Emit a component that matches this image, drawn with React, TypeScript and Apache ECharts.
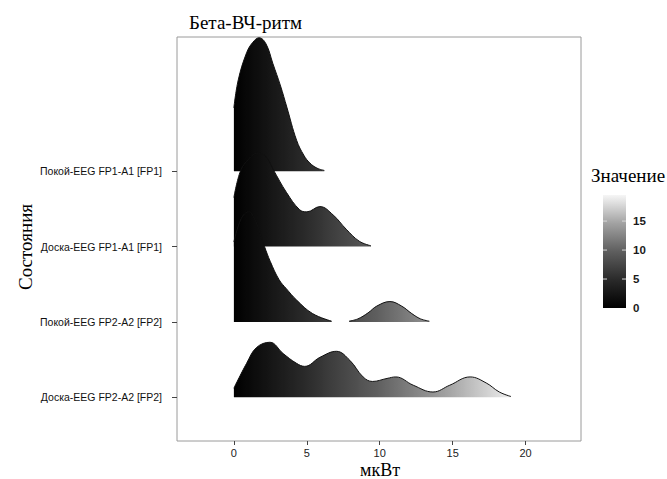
import React, { useEffect, useRef } from "react";
import * as echarts from "echarts";

// Categories from bottom (y = 1) to top (y = 4)
const categories = [
  "Доска-EEG FP2-A2 [FP2]",
  "Покой-EEG FP2-A2 [FP2]",
  "Доска-EEG FP1-A1 [FP1]",
  "Покой-EEG FP1-A1 [FP1]",
];

const xTicks = [0, 5, 10, 15, 20];
const legendTicks = [0, 5, 10, 15];
const fillMax = 19.5;

// Density ridges: x values (мкВт) and ridge heights (in units of row spacing)
const pokoyFP1X = [0, 0.3, 0.87, 1.3, 1.73, 2.2, 2.67, 3.2, 3.63, 4.3, 4.8, 5.2, 5.7, 6.2];
const pokoyFP1H = [0.84, 1.21, 1.57, 1.71, 1.77, 1.69, 1.43, 1.13, 0.85, 0.41, 0.21, 0.11, 0.04, 0.01];

const doskaFP1X = [0, 0.41, 0.87, 1.66, 2.2, 2.7, 3.6, 4.5, 5.0, 5.9, 6.8, 7.7, 8.6, 9.4];
const doskaFP1H = [0.65, 0.98, 1.13, 1.24, 1.19, 1.02, 0.72, 0.49, 0.46, 0.53, 0.42, 0.23, 0.07, 0.01];

const pokoyFP2X = [0, 0.5, 1.0, 1.5, 2.1, 2.5, 3.1, 3.6, 4.3, 5.4, 6.7, 7.3, 7.9, 8.5, 9.2, 9.8, 10.7, 11.5, 12.2, 12.8, 13.4];
const pokoyFP2H = [1.06, 1.37, 1.46, 1.33, 1.0, 0.8, 0.56, 0.44, 0.29, 0.11, 0.01, null, 0.01, 0.04, 0.12, 0.21, 0.27, 0.21, 0.11, 0.04, 0.01];

const doskaFP2X = [0, 0.87, 1.55, 2.47, 3.38, 4.3, 4.86, 5.9, 7.03, 7.95, 8.86, 9.5, 10.5, 11.1, 12.3, 13.65, 14.8, 16.2, 17.3, 18.2, 19.0];
const doskaFP2H = [0.12, 0.45, 0.66, 0.73, 0.58, 0.45, 0.41, 0.53, 0.61, 0.49, 0.27, 0.21, 0.25, 0.27, 0.16, 0.07, 0.16, 0.27, 0.19, 0.07, 0.01];

const ridges = [
  { base: 4, x: pokoyFP1X, h: pokoyFP1H },
  { base: 3, x: doskaFP1X, h: doskaFP1H },
  { base: 2, x: pokoyFP2X, h: pokoyFP2H },
  { base: 1, x: doskaFP2X, h: doskaFP2H },
];

const gradStops = [
  { offset: 0, color: "#000000" },
  { offset: 0.25, color: "#2a2a2a" },
  { offset: 0.5, color: "#5e5e5e" },
  { offset: 0.75, color: "#a2a2a2" },
  { offset: 1, color: "#f6f6f6" },
];

const serif = "'Liberation Serif', 'DejaVu Serif', serif";
const sans = "'Liberation Sans', Arial, sans-serif";

export default function App() {
  const ref = useRef<HTMLDivElement>(null);
  useEffect(() => {
    if (!ref.current) return;
    const chart = echarts.init(ref.current, undefined, { renderer: "svg" });

    const grid = { left: 177, right: 86, top: 37, bottom: 38 };
    const bar = { x: 603, y: 195, w: 23, h: 113 };
    const barY = (v: number) => bar.y + bar.h - (v / fillMax) * bar.h;

    const graphics: any[] = [
      {
        type: "text",
        x: 25,
        y: 247,
        rotation: Math.PI / 2,
        style: {
          text: "Состояния",
          font: `19px ${serif}`,
          fill: "#000",
          align: "center",
          verticalAlign: "middle",
        },
      },
      {
        type: "text",
        x: 380,
        y: 470,
        style: {
          text: "мкВт",
          font: `18px ${serif}`,
          fill: "#000",
          align: "center",
          verticalAlign: "middle",
        },
      },
      {
        type: "text",
        left: 591,
        top: 166,
        style: { text: "Значение", font: `19px ${serif}`, fill: "#000" },
      },
      {
        type: "rect",
        shape: { x: bar.x, y: bar.y, width: bar.w, height: bar.h },
        style: {
          fill: new echarts.graphic.LinearGradient(0, 1, 0, 0, gradStops),
        },
      },
    ];
    legendTicks.forEach((t) => {
      const y = barY(t);
      if (t > 0) {
        graphics.push({
          type: "line",
          shape: { x1: bar.x, y1: y, x2: bar.x + 4, y2: y },
          style: { stroke: "#d8d8d8", lineWidth: 1 },
        });
        graphics.push({
          type: "line",
          shape: { x1: bar.x + bar.w - 4, y1: y, x2: bar.x + bar.w, y2: y },
          style: { stroke: "#d8d8d8", lineWidth: 1 },
        });
      }
      graphics.push({
        type: "text",
        x: bar.x + bar.w + 7,
        y,
        style: {
          text: String(t),
          font: `bold 11.5px ${sans}`,
          fill: "#1a1a1a",
          verticalAlign: "middle",
          align: "left",
        },
      });
    });

    chart.setOption({
      animation: false,
      backgroundColor: "#ffffff",
      title: {
        text: "Бета-ВЧ-ритм",
        left: 184,
        top: 8,
        textStyle: { fontFamily: serif, fontSize: 19, fontWeight: "normal", color: "#000" },
      },
      grid: {
        ...grid,
        containLabel: false,
        outerBoundsMode: "none",
        show: true,
        borderColor: "#9a9a9a",
        borderWidth: 1,
        backgroundColor: "transparent",
      },
      xAxis: {
        type: "value",
        min: -3.9,
        max: 23.8,
        axisLine: { show: false, onZero: false },
        splitLine: { show: false },
        axisTick: { show: true, length: 4, lineStyle: { color: "#444" }, customValues: xTicks },
        axisLabel: {
          customValues: xTicks,
          fontFamily: sans,
          fontSize: 11,
          color: "#222",
          margin: 6,
        },
      },
      yAxis: {
        type: "value",
        min: 0.42,
        max: 5.78,
        axisLine: { show: false, onZero: false },
        splitLine: { show: false },
        axisTick: { show: true, length: 5, lineStyle: { color: "#444" }, customValues: [1, 2, 3, 4] },
        axisLabel: {
          customValues: [1, 2, 3, 4],
          formatter: (v: number) => categories[Math.round(v) - 1] ?? "",
          fontFamily: sans,
          fontSize: 10.5,
          color: "#111",
          margin: 15,
        },
      },
      visualMap: {
        type: "continuous",
        show: false,
        dimension: 0,
        min: 0,
        max: fillMax,
        inRange: { color: gradStops.map((s) => s.color) },
      },
      series: ridges.map((r, i) => ({
        type: "line",
        z: 2 + i,
        smooth: 0.4,
        showSymbol: false,
        connectNulls: false,
        silent: true,
        lineStyle: { color: "#111", width: 1 },
        areaStyle: { origin: r.base, opacity: 1 },
        data: r.x.map((xv, j) => (r.h[j] == null ? [xv, "-"] : [xv, r.base + (r.h[j] as number)])),
      })),
      graphic: graphics,
    });

    return () => chart.dispose();
  }, []);

  return (
    <div
      ref={ref}
      style={{ position: "fixed", left: 0, top: 0, width: 667, height: 479, background: "#fff" }}
    />
  );
}
